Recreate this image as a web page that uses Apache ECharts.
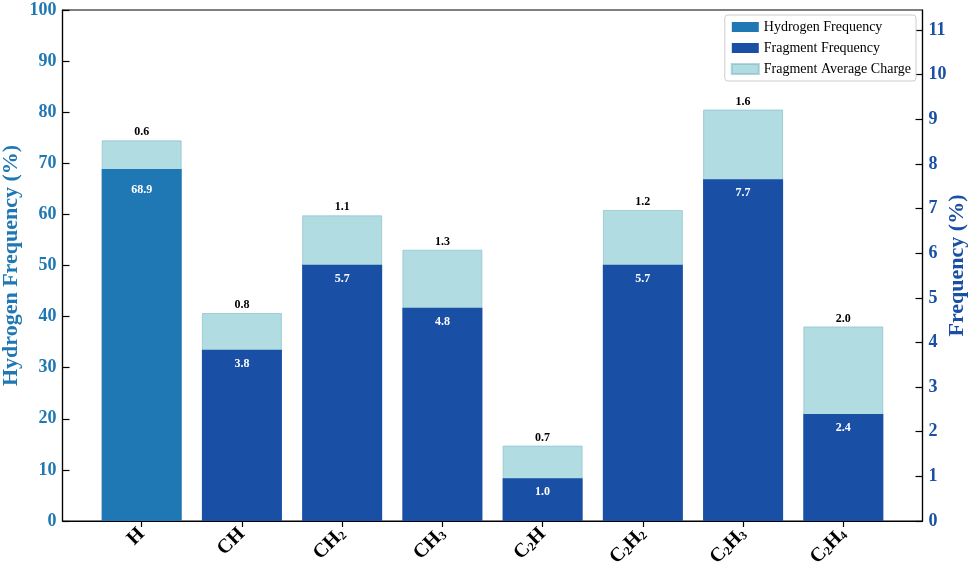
<!DOCTYPE html>
<html>
<head>
<meta charset="utf-8">
<script src="https://cdn.jsdelivr.net/npm/echarts@6/dist/echarts.min.js"></script>
<style>html,body{margin:0;padding:0;background:#fff}#c{width:974px;height:567px}</style>
</head>
<body>
<div id="c"></div>
<script>
// ---- data ----
var categories = ['H', 'CH', 'CH2', 'CH3', 'C2H', 'C2H2', 'C2H3', 'C2H4'];
var hydrogenFreq = [68.9, null, null, null, null, null, null, null];      // left axis (%)
var fragmentFreq = [null, 3.84, 5.74, 4.78, 0.96, 5.74, 7.66, 2.40];     // right axis (%)
var avgCharge = [0.64, 0.82, 1.11, 1.30, 0.73, 1.23, 1.56, 1.96];         // stacked on top
var leftTicks = [0, 10, 20, 30, 40, 50, 60, 70, 80, 90, 100];
var rightTicks = [0, 1, 2, 3, 4, 5, 6, 7, 8, 9, 10, 11];
var LEFT_MAX = 100, RIGHT_MAX = 11.45;

var FONT = '"Liberation Serif", "Times New Roman", serif';
var C_H = '#1f77b4', C_F = '#1a4fa6', C_Q = '#b0dce2';

function pairs(arr) {
  var out = [];
  arr.forEach(function (v, i) { if (v !== null) out.push([i, v]); });
  return out;
}
// charge segment sits on top of the frequency bar: bar drawn to (frequency + charge), dark bar over it
var hTotal = [[0, hydrogenFreq[0] + avgCharge[0] * LEFT_MAX / RIGHT_MAX]];
var fTotal = [];
for (var i = 1; i < categories.length; i++) fTotal.push([i, fragmentFreq[i] + avgCharge[i]]);

function richName(n) {
  return n.replace(/([A-Z]+)|(\d)/g, function (m, a, d) {
    return a ? '{b|' + a + '}' : '{s|' + d + '}';
  });
}

var chart = echarts.init(document.getElementById('c'), null, {renderer: 'canvas'});
var barW = 80;
function innerLabel(dist) {
  return {
    show: true, position: 'insideTop', distance: dist, color: '#fff',
    fontFamily: FONT, fontWeight: 'bold', fontSize: 12,
    formatter: function (p) { return p.value[1].toFixed(1); }
  };
}
var topLabel = {
  show: true, position: 'top', distance: 2, color: '#000',
  fontFamily: FONT, fontWeight: 'bold', fontSize: 12,
  formatter: function (p) { return avgCharge[p.value[0]].toFixed(1); }
};
var chargeStyle = {color: C_Q, borderColor: 'rgba(130,185,195,0.6)', borderWidth: 1};
chart.setOption({
  animation: false,
  grid: {left: 62.5, right: 51.5, top: 10, bottom: 46, outerBoundsMode: 'none', containLabel: false,
    show: true, borderColor: '#000', borderWidth: 1.2},
  legend: {
    orient: 'vertical', right: 58, top: 15, icon: 'rect', itemWidth: 27, itemHeight: 10, itemGap: 7,
    padding: [5, 5, 5, 6], borderColor: '#ccc', borderWidth: 1, borderRadius: 3,
    backgroundColor: 'rgba(255,255,255,0.8)',
    textStyle: {fontFamily: FONT, fontSize: 14, color: '#000'},
    data: ['Hydrogen Frequency', 'Fragment Frequency', 'Fragment Average Charge']
  },
  xAxis: {
    type: 'value', min: -0.79, max: 7.79,
    splitLine: {show: false},
    axisLine: {show: true, onZero: false, lineStyle: {color: '#000', width: 1.2}},
    axisTick: {show: true, customValues: [0, 1, 2, 3, 4, 5, 6, 7], length: 6, lineStyle: {color: '#000', width: 1.2}},
    axisLabel: {
      customValues: [0, 1, 2, 3, 4, 5, 6, 7], rotate: 45, margin: 10,
      formatter: function (v) { return richName(categories[Math.round(v)]); },
      rich: {
        b: {fontFamily: FONT, fontWeight: 'bold', fontSize: 20, color: '#000'},
        s: {fontFamily: FONT, fontWeight: 'bold', fontSize: 12, color: '#000', padding: [8, 0, 0, 0]}
      }
    }
  },
  yAxis: [{
    type: 'value', min: 0, max: LEFT_MAX, interval: 10,
    name: 'Hydrogen Frequency (%)', nameLocation: 'middle', nameGap: 40, nameMoveOverlap: false,
    nameTextStyle: {fontFamily: FONT, fontWeight: 'bold', fontSize: 22, color: C_H},
    splitLine: {show: false},
    axisLine: {show: true, onZero: false, lineStyle: {color: '#000', width: 1.2}},
    axisTick: {show: true, inside: true, length: 7, lineStyle: {color: '#000', width: 1.2}},
    axisLabel: {fontFamily: FONT, fontWeight: 'bold', fontSize: 18, color: C_H, margin: 6,
      formatter: function (v) { return leftTicks.indexOf(v) >= 0 ? String(v) : ''; }}
  }, {
    type: 'value', min: 0, max: RIGHT_MAX, interval: 1,
    name: 'Frequency (%)', nameLocation: 'middle', nameGap: 24, nameRotate: 90, nameMoveOverlap: false,
    nameTextStyle: {fontFamily: FONT, fontWeight: 'bold', fontSize: 22, color: C_F},
    splitLine: {show: false},
    axisLine: {show: true, onZero: false, lineStyle: {color: '#000', width: 1.2}},
    axisTick: {show: true, inside: true, length: 7, lineStyle: {color: '#000', width: 1.2}},
    axisLabel: {fontFamily: FONT, fontWeight: 'bold', fontSize: 18, color: C_F, margin: 6,
      showMaxLabel: false,
      formatter: function (v) { return rightTicks.indexOf(v) >= 0 ? String(v) : ''; }}
  }],
  series: [{
    name: 'Fragment Average Charge', type: 'bar', yAxisIndex: 0, barWidth: barW, barGap: '-100%',
    itemStyle: chargeStyle, label: topLabel, data: hTotal
  }, {
    name: 'Fragment Average Charge', type: 'bar', yAxisIndex: 1, barWidth: barW, barGap: '-100%',
    itemStyle: chargeStyle, label: topLabel, data: fTotal
  }, {
    name: 'Hydrogen Frequency', type: 'bar', yAxisIndex: 0, barWidth: barW, barGap: '-100%',
    itemStyle: {color: C_H}, label: innerLabel(15), data: pairs(hydrogenFreq)
  }, {
    name: 'Fragment Frequency', type: 'bar', yAxisIndex: 1, barWidth: barW, barGap: '-100%',
    itemStyle: {color: C_F}, label: innerLabel(8), data: pairs(fragmentFreq)
  }]
});
</script>
</body>
</html>
